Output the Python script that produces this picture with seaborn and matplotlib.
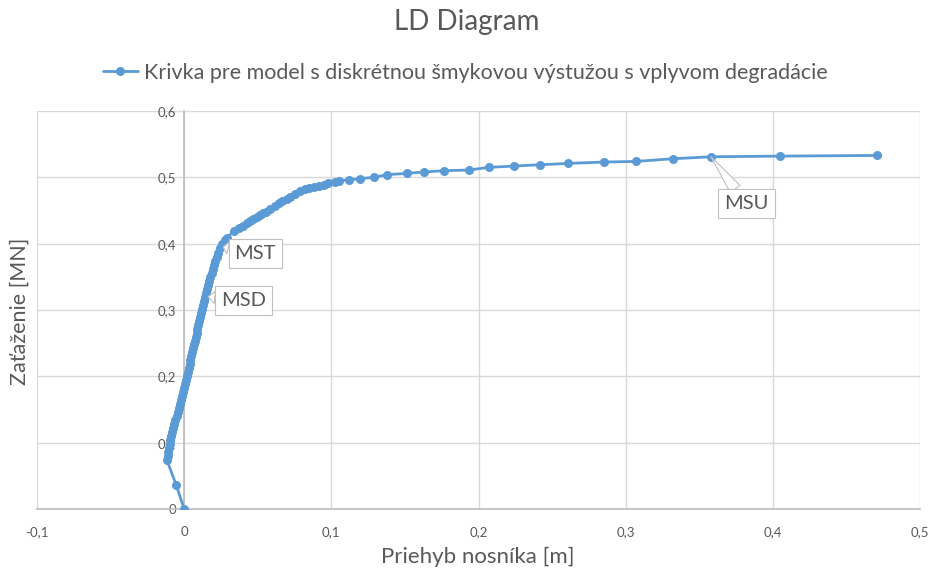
import matplotlib
matplotlib.use("Agg")
import matplotlib.pyplot as plt
import seaborn as sns
import pandas as pd

# ---- data ----
deflection = [
    0.0, -0.0054, -0.0118, -0.0112, -0.0107, -0.0102, -0.0098, -0.0093, -0.0087, -0.0080,
    -0.0073, -0.0066, -0.0060, -0.0052, -0.0045, -0.0038, -0.0030, -0.0023, -0.0016, -0.0009,
    -0.0002, 0.0006, 0.0013, 0.0020, 0.0026, 0.0032, 0.0038, 0.0043, 0.0049, 0.0055,
    0.0061, 0.0067, 0.0072, 0.0078, 0.0084, 0.0090, 0.0096, 0.0102, 0.0108, 0.0114,
    0.0120, 0.0127, 0.0134, 0.0141, 0.0148, 0.0155, 0.0162, 0.0170, 0.0178, 0.0186,
    0.0194, 0.0202, 0.0211, 0.0221, 0.0232, 0.0244, 0.0258, 0.0275, 0.0292,
    0.0336, 0.0370, 0.0400, 0.0426, 0.0450, 0.0470, 0.0495, 0.0517, 0.0535, 0.0555,
    0.0585, 0.0620, 0.0645, 0.0665, 0.0698, 0.0721, 0.0755, 0.0789, 0.0820, 0.0850,
    0.0880, 0.0915, 0.0948, 0.0980, 0.1027, 0.1050, 0.1118, 0.1197, 0.1288, 0.1379,
    0.1515, 0.1628, 0.1764, 0.1934, 0.2070, 0.2240, 0.2420, 0.2610, 0.2850, 0.3070,
    0.3320, 0.3580, 0.4050, 0.4710,
]
load = [
    0.0, 0.036, 0.074, 0.080, 0.086, 0.092, 0.098, 0.104, 0.110, 0.116,
    0.122, 0.128, 0.134, 0.140, 0.146, 0.152, 0.158, 0.164, 0.170, 0.176,
    0.182, 0.188, 0.194, 0.200, 0.206, 0.212, 0.218, 0.224, 0.230, 0.236,
    0.242, 0.248, 0.254, 0.260, 0.266, 0.272, 0.278, 0.284, 0.290, 0.296,
    0.302, 0.308, 0.314, 0.320, 0.326, 0.332, 0.338, 0.344, 0.350, 0.356,
    0.362, 0.368, 0.374, 0.380, 0.386, 0.393, 0.400, 0.405, 0.409,
    0.419, 0.423, 0.427, 0.431, 0.434, 0.437, 0.440, 0.443, 0.446, 0.448,
    0.452, 0.457, 0.461, 0.464, 0.467, 0.471, 0.475, 0.479, 0.482, 0.484,
    0.486, 0.487, 0.488, 0.491, 0.493, 0.495, 0.496, 0.498, 0.500, 0.504,
    0.506, 0.508, 0.510, 0.511, 0.515, 0.517, 0.519, 0.521, 0.523, 0.524,
    0.528, 0.531, 0.532, 0.533,
]
series_name = "Krivka pre model s diskrétnou šmykovou výstužou s vplyvom degradácie"

x_ticks = [-0.1, 0.0, 0.1, 0.2, 0.3, 0.4, 0.5]
x_tick_labels = ["-0,1", "0", "0,1", "0,2", "0,3", "0,4", "0,5"]
y_ticks = [0.0, 0.1, 0.2, 0.3, 0.4, 0.5, 0.6]
y_tick_labels = ["0", "0,1", "0,2", "0,3", "0,4", "0,5", "0,6"]

annot_labels = ["MST", "MSD", "MSU"]
annot_points = [(0.0265, 0.395), (0.0163, 0.320), (0.3580, 0.531)]
annot_text_pos = [(0.0483, 0.385), (0.0405, 0.315), (0.3820, 0.460)]

title = "LD Diagram"
x_label = "Priehyb nosníka [m]"
y_label = "Zaťaženie [MN]"

# ---- style ----
sns.set_theme(style="white")
plt.rcParams["font.family"] = ["Lato", "DejaVu Sans"]

blue = "#5b9bd5"
grid_c = "#d9d9d9"
text_c = "#595959"

fig = plt.figure(figsize=(9.31, 5.71), dpi=100)
ax = fig.add_axes([37 / 931, 1 - 509 / 571, (920 - 37) / 931, (509 - 111) / 571])

df = pd.DataFrame({"x": deflection, "y": load})
sns.lineplot(data=df, x="x", y="y", sort=False, estimator=None, ax=ax,
             color=blue, linewidth=2.0, marker="o", markersize=6.5,
             markeredgewidth=0, label=series_name, zorder=3)

ax.set_xlim(-0.1, 0.5)
ax.set_ylim(0, 0.6)
ax.set_xticks(x_ticks)
ax.set_xticklabels(x_tick_labels)
ax.set_yticks(y_ticks)
ax.set_yticklabels(y_tick_labels)
ax.grid(True, color=grid_c, linewidth=1.0)
ax.set_axisbelow(True)

for s in ["top", "right"]:
    ax.spines[s].set_visible(False)
ax.spines["left"].set_position(("data", 0))
ax.spines["left"].set_color("#bfbfbf")
ax.spines["bottom"].set_color("#bfbfbf")
ax.tick_params(axis="both", length=0, colors=text_c, labelsize=9.5)
ax.tick_params(axis="x", pad=12)
ax.tick_params(axis="y", pad=6)

ax.set_xlabel("")
ax.set_ylabel("")
fig.text(478 / 931, 1 - 557 / 571, x_label, ha="center", va="center",
         fontsize=16, color=text_c)
fig.text(20 / 931, 1 - 311 / 571, y_label, ha="center", va="center",
         rotation=90, fontsize=15.5, color=text_c)
fig.text(467 / 931, 1 - 22 / 571, title, ha="center", va="center",
         fontsize=20, color=text_c)

leg = ax.legend(loc="center", bbox_to_anchor=(0.5, 1 - 73 / 571),
                bbox_transform=fig.transFigure, frameon=False,
                fontsize=15.5, handlelength=1.6, handletextpad=0.3)
for t in leg.get_texts():
    t.set_color(text_c)

for lab, pt, tp in zip(annot_labels, annot_points, annot_text_pos):
    ax.annotate(lab, xy=pt, xytext=tp, ha="center", va="center",
                fontsize=14.5, color=text_c, zorder=5,
                bbox=dict(boxstyle="square,pad=0.3", fc="white", ec="#bfbfbf", lw=0.8),
                arrowprops=dict(arrowstyle="wedge,tail_width=0.6,shrink_factor=0.5",
                                fc="white", ec="#bfbfbf", lw=0.8, shrinkA=0, shrinkB=0))

fig.savefig("out.png", dpi=100)
